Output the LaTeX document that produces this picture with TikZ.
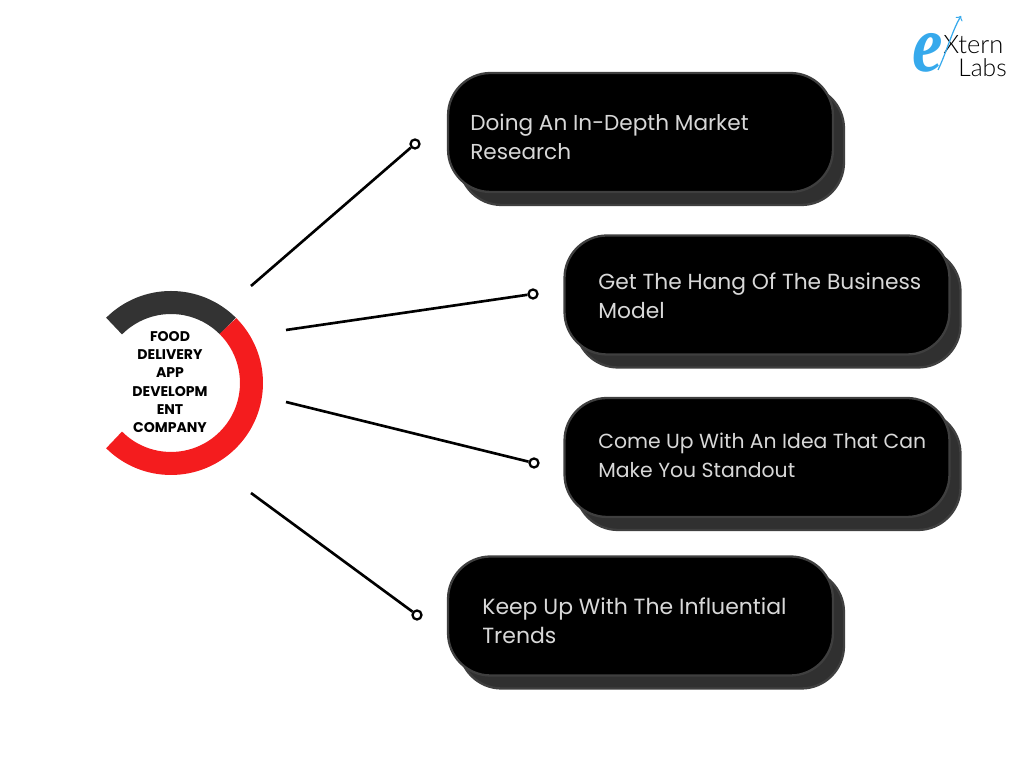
\documentclass[tikz,border=0pt]{standalone}
\usepackage{fontspec}
\setmainfont{Poppins}
\newfontfamily\logofont{Lato Light}
\newfontfamily\logoefont{Liberation Serif}
\definecolor{ringred}{HTML}{F41C1E}
\definecolor{ringdark}{HTML}{333333}
\definecolor{boxedge}{HTML}{3F3F3F}
\definecolor{boxshade}{HTML}{303030}
\definecolor{boxtxt}{HTML}{D8D8D8}
\definecolor{logoblue}{HTML}{36A9EC}
\tikzset{
  pillbox/.style={draw=boxedge, line width=1.3pt, fill=black, rounded corners=0.85cm,
    minimum width=7.7cm, minimum height=2.38cm, inner sep=0pt},
  pillback/.style={pillbox, fill=boxshade},
  pilltext/.style={anchor=west, align=left, inner sep=0pt, text=boxtxt,
    font=\fontsize{#1}{16.5}\selectfont},
  endring/.style={circle, draw=black, fill=white, line width=1.3pt,
    minimum size=0.18cm, inner sep=0pt},
  spoke/.style={draw=black, line width=1.5pt},
  ringarc/.style={line width=13.1pt}
}
\begin{document}
\begin{tikzpicture}[x=0.02cm, y=0.02cm]
    \useasboundingbox (0,0) rectangle (1024,766);

    % ring
    \coordinate (ring) at (171,383);
    \draw [ringarc, ringdark] ([shift={(135:1.61cm)}]ring) arc (135:45:1.61cm);
    \draw [ringarc, ringred] ([shift={(45:1.61cm)}]ring) arc (45:-135:1.61cm);
    \node [align=center, inner sep=0pt, text=black, font=\fontsize{8}{10.4}\selectfont\bfseries]
    (ringtext) at (170,384) {FOOD\\DELIVERY\\APP\\DEVELOPM\\ENT\\COMPANY};

    % boxes, shadow first
    \node [pillback] (researchback) at (651.5,620.5) {};
    \node [pillbox] (research) at (640.5,633.5) {};
    \node [pilltext=12.3] (researchtext) at (470,629.5) {Doing An In-Depth Market\\Research};

    \node [pillback] (modelback) at (768,458) {};
    \node [pillbox] (model) at (757,471) {};
    \node [pilltext=12.4] (modeltext) at (598,470.5) {Get The Hang Of The Business\\Model};

    \node [pillback] (ideaback) at (768,295.5) {};
    \node [pillbox] (idea) at (757,308.5) {};
    \node [pilltext=11.6] (ideatext) at (598,311) {Come Up With An Idea That Can\\Make You Standout};

    \node [pillback] (trendsback) at (651.5,137) {};
    \node [pillbox] (trends) at (640.5,150) {};
    \node [pilltext=12.5] (trendstext) at (482,145.5) {Keep Up With The Influential\\Trends};

    % spokes
    \coordinate (s1) at (251,480);
    \coordinate (s2) at (286,436);
    \coordinate (s3) at (286,364);
    \coordinate (s4) at (251,273);
    \node [endring] (e1) at (415,622) {};
    \node [endring] (e2) at (533,472) {};
    \node [endring] (e3) at (534,303) {};
    \node [endring] (e4) at (417,151) {};
    \draw [spoke] (s1) -- (e1);
    \draw [spoke] (s2) -- (e2);
    \draw [spoke] (s3) -- (e3);
    \draw [spoke] (s4) -- (e4);

    % logo
    \node [inner sep=0pt, text=logoblue, xscale=0.85, font=\fontsize{46}{46}\logoefont\itshape\bfseries]
    (logoe) at (928,713) {e};
    \node [anchor=west, inner sep=0pt, font=\fontsize{14.5}{14.5}\logofont] (logoxtern) at (943,721) {Xtern};
    \node [anchor=west, inner sep=0pt, font=\fontsize{14}{14}\logofont] (logolabs) at (958,698) {Labs};
    \coordinate (logofoot) at (938,696);
    \coordinate (logotip) at (961,750);
    \draw [-to, logoblue, line width=0.7pt] (logofoot) .. controls (947,715) and (952,735) .. (logotip);
  \end{tikzpicture}
\end{document}
